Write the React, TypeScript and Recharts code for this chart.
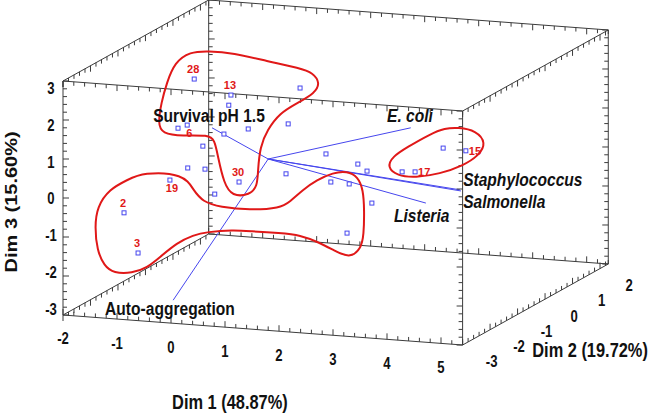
import { ScatterChart, Scatter, XAxis, YAxis, ReferenceLine } from "recharts";

// Plane of the drawing, in Dim 1 units across and Dim 3 units up (front face of the box)
const W = 650;
const H = 416;
const PX_X = 54;
const PX_Y = 39;
const X_DOMAIN: [number, number] = [-2 - 63 / PX_X, -2 + (W - 63) / PX_X];
const Y_DOMAIN: [number, number] = [-3 - (H - 315) / PX_Y, -3 + 315 / PX_Y];

// observations, where they appear in the projected plot
const OBS_ID = ["28", "13", "", "", "", "6", "", "", "", "", "", "", "19", "30", "", "", "", "", "", "", "", "", "", "", "17", "", "15", "2", "3"];
const OBS_X = [0.43, 1.11, 1.07, 2.39, 0.13, 0.3, 0.98, 1.43, 2.17, 0.59, 0.31, 0.63, -0.02, 1.26, 0.81, 2.13, 2.87, 3.46, 3.63, 2.96, 3.3, 3.72, 3.26, 4.28, 4.52, 5.04, 5.46, -0.87, -0.61];
const OBS_Y = [3.05, 2.64, 2.38, 2.82, 1.79, 1.87, 1.64, 1.77, 1.9, 1.33, 0.77, 0.74, 0.46, 0.41, 0.1, 0.62, 1.13, 0.87, 0.69, 0.41, 0.36, -0.13, -0.9, 0.67, 0.67, 1.28, 1.21, -0.38, -1.41];

// variable loadings (arrow tips) and common origin
const VAR_NAMES = ["Survival pH 1.5", "E. coli", "Staphylococcus", "Salmonella", "Listeria", "Auto-aggregation"];
const VAR_X = [0.76, 4.44, 5.37, 5.35, 4.72, 0.04];
const VAR_Y = [1.8, 1.8, 0.18, 0.21, -0.13, -2.62];
const ORIGIN = { x: 1.8, y: 1.0 };

// cluster outlines
const HULL_A = [
  [0.69, 3.77], [1.15, 3.72], [1.78, 3.51], [2.39, 3.33], [2.63, 3.21], [2.76, 2.95], [2.67, 2.69],
  [2.31, 2.41], [2.02, 2.18], [1.78, 1.74], [1.65, 1.31], [1.61, 0.72], [1.6, 0.3], [1.46, 0.08],
  [1.13, 0.04], [0.98, 0.38], [0.87, 1.05], [0.81, 1.49], [0.69, 1.62], [0.22, 1.59], [-0.17, 1.65],
  [-0.24, 1.92], [-0.18, 2.44], [-0.08, 2.95], [0.07, 3.48], [0.35, 3.75],
];
const HULL_B = [
  [-0.81, 0.46], [-0.52, 0.66], [0.24, 0.62], [0.41, 0.21], [0.59, -0.1], [0.91, -0.23], [1.46, -0.31],
  [2.02, -0.26], [2.2, -0.1], [2.44, 0.21], [2.7, 0.46], [3.0, 0.65], [3.26, 0.69], [3.46, 0.55],
  [3.56, 0.21], [3.58, -0.31], [3.57, -0.95], [3.52, -1.3], [3.31, -1.55], [3.0, -1.33], [2.76, -1.15],
  [2.39, -0.95], [2.02, -0.9], [1.46, -0.85], [1.15, -0.82], [0.67, -0.87], [0.41, -0.95], [0.11, -1.15],
  [-0.2, -1.51], [-0.44, -1.79], [-0.72, -1.93], [-1.06, -1.93], [-1.24, -1.74], [-1.37, -1.33],
  [-1.41, -0.74], [-1.37, -0.23], [-1.14, 0.23],
];
const HULL_C = [
  [5.32, 1.81], [5.65, 1.73], [5.84, 1.41], [5.7, 1.09], [5.41, 0.83], [4.98, 0.62], [4.52, 0.52],
  [4.19, 0.57], [4.0, 0.79], [4.1, 1.06], [4.37, 1.3], [4.8, 1.64], [5.07, 1.79],
];

const DIM1_TICKS = [-2, -1, 0, 1, 2, 3, 4, 5];
const DIM2_TICKS = [-3, -2, -1, 0, 1, 2];
const DIM3_TICKS = [-3, -2, -1, 0, 1, 2, 3];

// box extent and oblique projection of Dim 2 (depth)
const D_RANGE = [[-2, 5.4], [-3, 2.3], [-3, 3]];
const DEPTH_X = 0.509;
const DEPTH_Y = 0.392;
const TILT = 0.104;
const project = (d1: number, d2: number, d3: number) => ({
  x: d1 + DEPTH_X * (d2 + 3),
  y: d3 - TILT * (d1 + 2) + DEPTH_Y * (d2 + 3),
});

const EDGES = [
  { axis: 0, a: -3, b: -3, dir: "U" },
  { axis: 0, a: -3, b: 3, dir: "D" },
  { axis: 0, a: 2.3, b: -3, dir: "U" },
  { axis: 0, a: 2.3, b: 3, dir: "D" },
  { axis: 1, a: -2, b: -3, dir: "D" },
  { axis: 1, a: -2, b: 3, dir: "D" },
  { axis: 1, a: 5.4, b: -3, dir: "U" },
  { axis: 1, a: 5.4, b: 3, dir: "D" },
  { axis: 2, a: -2, b: -3, dir: "R" },
  { axis: 2, a: -2, b: 2.3, dir: "R" },
  { axis: 2, a: 5.4, b: -3, dir: "L" },
  { axis: 2, a: 5.4, b: 2.3, dir: "L" },
];

const onEdge = (axis: number, t: number, a: number, b: number) =>
  axis === 0 ? project(t, a, b) : axis === 1 ? project(a, t, b) : project(a, b, t);

const LABEL_SIDE: Record<string, string> = {
  "28": "top", "13": "top", "30": "top", "2": "top", "3": "top",
  "6": "below", "19": "below", "17": "right", "15": "right",
};

const VAR_LABEL_POS: Record<string, [number, number]> = {
  "Survival pH 1.5": [-0.33, 1.95],
  "E. coli": [4.0, 1.95],
  Staphylococcus: [5.41, 0.3],
  Salmonella: [5.41, -0.26],
  Listeria: [4.13, -0.62],
  "Auto-aggregation": [-1.22, -3.0],
};

const FONT = "'Liberation Sans', Arial, sans-serif";
const SQUEEZE = 0.82;
const BOX = "#3c3c3c";
const RED = "#e01818";
const BLUE = "#4646ee";

const Empty = () => <g />;

const TickMark = (p: any) => {
  const { cx, cy, payload } = p;
  const len = payload.major ? 6 : 4;
  const d = payload.dir;
  const dx = d === "R" ? len : d === "L" ? -len : 0;
  const dy = d === "D" ? len : d === "U" ? -len : 0;
  return <line x1={cx} y1={cy} x2={cx + dx} y2={cy + dy} stroke={BOX} strokeWidth={1} />;
};

const ObsMark = (p: any) => {
  const { cx, cy, payload } = p;
  const side = LABEL_SIDE[payload.id];
  let label = null;
  if (payload.id) {
    const lx = side === "right" ? cx + 3 : side === "below" ? cx + 2 : cx - 1;
    const ly = side === "right" ? cy + 4 : side === "below" ? cy + 12 : cy - 6;
    label = (
      <text x={lx} y={ly} textAnchor={side === "right" ? "start" : "middle"} fontFamily={FONT}
        fontSize={11} fontWeight="bold" fill={RED}>
        {payload.id}
      </text>
    );
  }
  return (
    <g>
      <rect x={cx - 2} y={cy - 2} width={4} height={4} fill="#fff" stroke={BLUE} strokeWidth={1} />
      {label}
    </g>
  );
};

const TextMark = (p: any) => {
  const { cx, cy, payload } = p;
  const x = cx + (payload.dx || 0);
  const y = cy + (payload.dy || 0);
  const tf = payload.rotate
    ? `translate(${x},${y}) scale(${SQUEEZE},1) rotate(-90)`
    : `translate(${x},${y}) scale(${SQUEEZE},1)`;
  return (
    <text transform={tf} fontFamily={FONT} fontSize={payload.size} fontWeight="bold"
      fontStyle={payload.italic ? "italic" : "normal"} textAnchor={payload.anchor}
      dominantBaseline={payload.central ? "central" : "auto"} fill="#111">
      {payload.text}
    </text>
  );
};

export default function App() {
  const points = OBS_X.map((x, i) => ({ x, y: OBS_Y[i], id: OBS_ID[i] }));

  const edgeSegments = EDGES.map((e) => {
    const [lo, hi] = D_RANGE[e.axis];
    return [onEdge(e.axis, lo, e.a, e.b), onEdge(e.axis, hi, e.a, e.b)];
  });

  const ticks: any[] = [];
  EDGES.forEach((e) => {
    const [lo, hi] = D_RANGE[e.axis];
    for (let i = 0; lo + i * 0.2 <= hi + 1e-9; i++) {
      const t = lo + i * 0.2;
      const pt = onEdge(e.axis, t, e.a, e.b);
      ticks.push({ ...pt, dir: e.dir, major: Math.abs(t - Math.round(t)) < 1e-6 });
    }
  });

  const texts: any[] = [];
  DIM1_TICKS.forEach((v) => texts.push({ ...project(v, -3, -3), text: String(v), size: 16, anchor: "middle", central: true, dx: 0, dy: 24 }));
  DIM2_TICKS.forEach((v) => texts.push({ ...project(5.4, v, -3), text: String(v), size: 16, anchor: "middle", central: true, dx: 29, dy: 17 }));
  DIM3_TICKS.forEach((v) => texts.push({ ...project(-2, -3, v * 0.944), text: String(v), size: 16, anchor: "middle", central: true, dx: -12, dy: 1 }));
  texts.push({ x: 1.09, y: -5.41, text: "Dim 1 (48.87%)", size: 20, anchor: "middle" });
  texts.push({ x: 6.69, y: -4.08, text: "Dim 2 (19.72%)", size: 20, anchor: "start" });
  texts.push({ x: -2.85, y: -0.1, text: "Dim 3 (15.60%)", size: 20, anchor: "middle", rotate: true });
  VAR_NAMES.forEach((n, i) => {
    const [x, y] = VAR_LABEL_POS[n];
    texts.push({ x, y, text: n, size: 19, anchor: "start", italic: i >= 1 && i <= 4 });
  });

  const hulls = [HULL_A, HULL_B, HULL_C].map((h) => h.map(([x, y]) => ({ x, y })));

  return (
    <div style={{ position: "absolute", left: 0, top: 0, width: W, height: H, background: "#fff" }}>
      <ScatterChart width={W} height={H} margin={{ top: 0, right: 0, bottom: 0, left: 0 }}>
        <XAxis type="number" dataKey="x" domain={X_DOMAIN} hide allowDataOverflow />
        <YAxis type="number" dataKey="y" domain={Y_DOMAIN} hide allowDataOverflow />
        {edgeSegments.map((seg, i) => (
          <ReferenceLine key={"edge" + i} segment={seg} stroke={BOX} strokeWidth={1} ifOverflow="visible" />
        ))}
        <Scatter data={ticks} shape={TickMark} isAnimationActive={false} />
        {hulls.map((h, i) => (
          <Scatter key={"hull" + i} data={h} line={{ stroke: RED, strokeWidth: 2, fill: "none" }}
            lineJointType="basisClosed" shape={Empty} isAnimationActive={false} />
        ))}
        {VAR_NAMES.map((n, i) => (
          <ReferenceLine key={n} segment={[ORIGIN, { x: VAR_X[i], y: VAR_Y[i] }]} stroke={BLUE}
            strokeWidth={1} ifOverflow="visible" />
        ))}
        <Scatter data={points} shape={ObsMark} isAnimationActive={false} />
        <Scatter data={texts} shape={TextMark} isAnimationActive={false} />
      </ScatterChart>
    </div>
  );
}
